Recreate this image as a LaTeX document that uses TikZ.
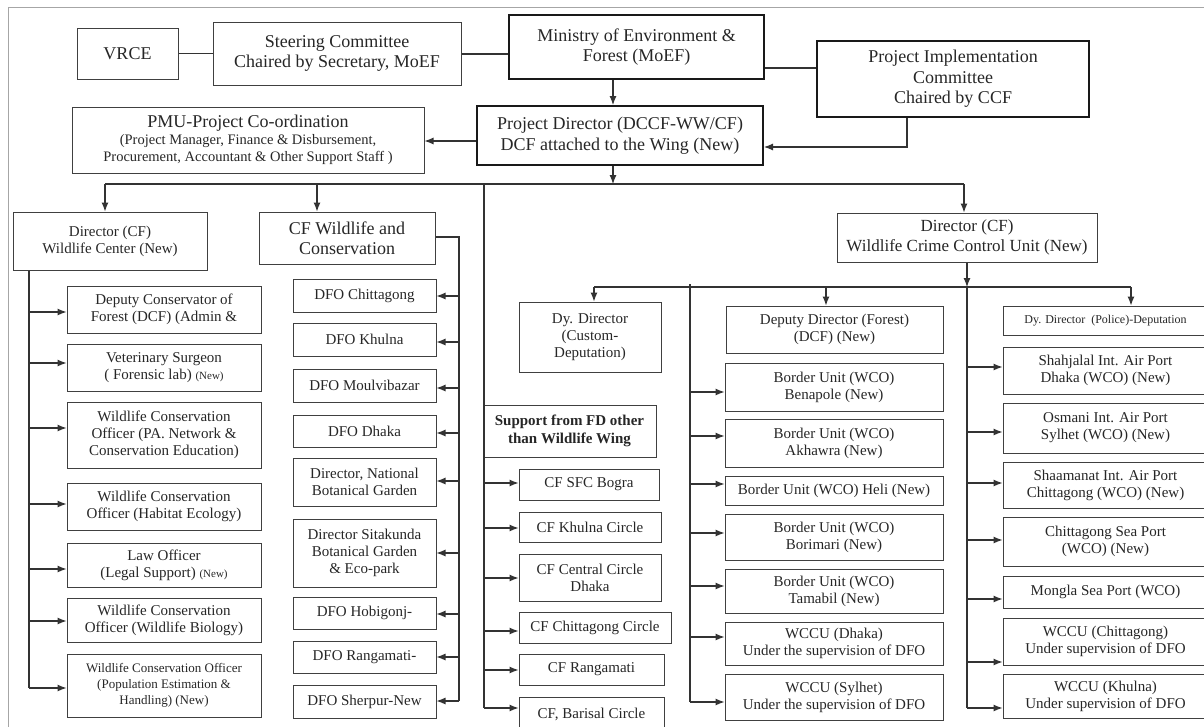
\documentclass[tikz,border=0pt]{standalone}
\usepackage{fontspec}
\setmainfont{Liberation Serif}
\usetikzlibrary{arrows.meta}
\newcommand{\fsz}[2]{\fontsize{#1}{#2}\selectfont}

\begin{document}
\begin{tikzpicture}[
  x=1pt, y=-1pt,
  box/.style 2 args={
    draw=black!75,
    line width=1pt,
    align=center,
    inner sep=1pt,
    text=black!85,
    font=\fsz{15}{17},
    minimum width=#1pt,
    minimum height=#2pt},
  bigbox/.style 2 args={box={#1}{#2}, draw=black!90, line width=2pt, font=\fsz{18}{20.5}},
  ln/.style={draw=black!80, line width=1.1pt},
  arr/.style={ln, -{Latex[length=9pt,width=7pt]}}]
  \useasboundingbox (0,0) rectangle (1204,726);
  % page frame
  \draw[gray!70,line width=0.8pt] (8,740) -- (8,7) -- (1215,7);
  % top level: ministry and committees
  \node[box={101}{51},font=\fsz{18}{20}] (vrce) at (127.5, 53.5) {VRCE};
  \node[box={248}{63},font=\fsz{18}{20}] (steer) at (337, 53.5) {Steering Committee\\Chaired by Secretary, MoEF};
  \node[bigbox={255}{64}] (moef) at (636.5, 47) {Ministry of Environment \&\\Forest (MoEF)};
  \node[bigbox={272}{76}] (pic) at (953, 79) {Project Implementation\\Committee\\Chaired by CCF};
  \node[bigbox={286}{59}] (pd) at (620, 135.5) {Project Director (DCCF-WW/CF)\\DCF attached to the Wing (New)};
  \node[box={352}{66}] (pmu) at (248, 140) {{\fsz{18}{20}PMU-Project Co-ordination}\\{\fsz{14.5}{17}(Project Manager, Finance \& Disbursement,}\\{\fsz{14.5}{17}Procurement, Accountant \& Other Support Staff )}};
  \draw[ln] (vrce.east) -- (steer.west);
  \draw[ln] (steer.east |- 0,54) -- (moef.west |- 0,54);
  \draw[ln] (moef.east |- 0,68) -- (pic.west |- 0,68);
  \draw[arr] (moef.south -| 613,0) -- (pd.north -| 613,0);
  \draw[arr] (pic.south -| 907,0) |- (pd.east |- 0,147);
  \draw[arr] (pd.west |- 0,141) -- (pmu.east |- 0,141);
  % main bus below the project director
  \coordinate (bus) at (613,184);
  \draw[arr] (pd.south -| bus) -- (bus);
  \draw[ln] (bus -| 105,0) -- (bus -| 964,0);
  % heads of the four branches
  \node[box={194}{58}] (dwc) at (110, 241) {Director (CF)\\Wildlife Center (New)};
  \node[box={176}{52},font=\fsz{18}{20}] (cfw) at (347, 238) {CF Wildlife and\\Conservation};
  \node[box={173}{52},font=\bfseries\fsz{15}{18}] (sup) at (569.5, 431) {Support from FD other\\than Wildlife Wing};
  \node[box={260}{49},font=\fsz{17}{19.5}] (dwcu) at (967, 237.5) {Director (CF)\\Wildlife Crime Control Unit (New)};
  \draw[arr] (bus -| 105,0) -- (dwc.north -| 105,0);
  \draw[arr] (bus -| 317,0) -- (cfw.north -| 317,0);
  \draw[arr] (bus -| 964,0) -- (dwcu.north -| 964,0);
  % wildlife center staff
  \node[box={194}{47}] (dcf) at (164, 309.5) {Deputy Conservator of\\Forest (DCF) (Admin \&};
  \node[box={194}{47}] (vet) at (164, 367.5) {Veterinary Surgeon\\( Forensic lab) {\fsz{11}{13}(New)}};
  \node[box={194}{66}] (wpa) at (164, 435) {Wildlife Conservation\\Officer (PA. Network \&\\Conservation Education)};
  \node[box={194}{47}] (whab) at (164, 506.5) {Wildlife Conservation\\Officer (Habitat Ecology)};
  \node[box={194}{44}] (law) at (164, 565) {Law Officer\\(Legal Support) {\fsz{11}{13}(New)}};
  \node[box={194}{44}] (wbio) at (164, 620) {Wildlife Conservation\\Officer (Wildlife Biology)};
  \node[box={194}{63},font=\fsz{13}{16}] (wpop) at (164, 685.5) {Wildlife Conservation Officer\\(Population Estimation \&\\Handling) (New)};
  \coordinate (lspine) at (29,688);
  \draw[ln] (dwc.south -| lspine) -- (lspine);
  \foreach \n/\y in {dcf/312,vet/363,wpa/428,whab/504,law/569,wbio/621,wpop/688}
    \draw[arr] (lspine |- 0,\y) -- (\n.west |- 0,\y);
  % divisional forest offices
  \node[box={143}{33}] (dfoc) at (364.5, 295.5) {DFO Chittagong};
  \node[box={143}{33}] (dfok) at (364.5, 339.5) {DFO Khulna};
  \node[box={143}{33}] (dfom) at (364.5, 385.5) {DFO Moulvibazar};
  \node[box={143}{32}] (dfod) at (364.5, 431) {DFO Dhaka};
  \node[box={143}{48}] (dnbg) at (364.5, 482) {Director, National\\Botanical Garden};
  \node[box={143}{68}] (dsbg) at (364.5, 553) {Director Sitakunda\\Botanical Garden\\\& Eco-park};
  \node[box={143}{32}] (dfoh) at (364.5, 613) {DFO Hobigonj-};
  \node[box={143}{32}] (dfor) at (364.5, 657) {DFO Rangamati-};
  \node[box={143}{33}] (dfos) at (364.5, 701.5) {DFO Sherpur-New};
  \coordinate (cspine) at (459,701);
  \draw[ln] (cfw.east |- 0,237) -| (cspine);
  \foreach \n/\y in {dfoc/296,dfok/342,dfom/388,dfod/433,dnbg/481,dsbg/553,dfoh/614,dfor/657,dfos/701}
    \draw[arr] (cspine |- 0,\y) -- (\n.east |- 0,\y);
  % forest circles giving support
  \node[box={140}{31}] (cfb) at (589, 484.5) {CF SFC Bogra};
  \node[box={142}{30}] (cfk) at (590, 527) {CF Khulna Circle};
  \node[box={142}{47}] (cfc) at (590, 577.5) {CF Central Circle\\Dhaka};
  \node[box={152}{31}] (cfch) at (595, 627.5) {CF Chittagong Circle};
  \node[box={145}{31}] (cfr) at (591.5, 669.5) {CF Rangamati};
  \node[box={145}{35}] (cfbar) at (591.5, 714.5) {CF, Barisal Circle};
  \coordinate (sspine) at (484,708);
  \draw[ln] (bus -| sspine) -- (sspine);
  \foreach \n/\y in {cfb/483,cfk/528,cfc/578,cfch/631,cfr/670,cfbar/708}
    \draw[arr] (sspine |- 0,\y) -- (\n.west |- 0,\y);
  % crime control unit: deputies
  \coordinate (wbus) at (967,287);
  \draw[arr] (dwcu.south -| wbus) -- (wbus);
  \draw[ln] (wbus -| 594,0) -- (wbus -| 1131,0);
  \node[box={142}{70}] (ddc) at (590, 337) {Dy. Director\\(Custom-\\Deputation)};
  \node[box={217}{47}] (ddf) at (834.5, 329.5) {Deputy Director (Forest)\\(DCF) (New)};
  \node[box={205}{29},font=\fsz{12}{14}] (ddp) at (1105.5, 320.5) {Dy. Director\ \ (Police)-Deputation};
  \draw[arr] (wbus -| 594,0) -- (ddc.north -| 594,0);
  \draw[arr] (wbus -| 826,0) -- (ddf.north -| 826,0);
  \draw[arr] (wbus -| 1131,0) -- (ddp.north -| 1131,0);
  % border units
  \node[box={218}{48}] (bben) at (834, 387) {Border Unit (WCO)\\Benapole (New)};
  \node[box={218}{48}] (bakh) at (834, 443) {Border Unit (WCO)\\Akhawra (New)};
  \node[box={218}{29}] (bhel) at (834, 490.5) {Border Unit (WCO) Heli (New)};
  \node[box={218}{46}] (bbor) at (834, 537) {Border Unit (WCO)\\Borimari (New)};
  \node[box={218}{44}] (btam) at (834, 591) {Border Unit (WCO)\\Tamabil (New)};
  \node[box={218}{43}] (wdha) at (834, 643.5) {WCCU (Dhaka)\\Under the supervision of DFO};
  \node[box={218}{46}] (wsyl) at (834, 697) {WCCU (Sylhet)\\Under the supervision of DFO};
  \coordinate (bspine) at (690,702);
  \draw[ln] (bspine |- 0,284) -- (bspine);
  \foreach \n/\y in {bben/392,bakh/436,bhel/484,bbor/533,btam/586,wdha/637,wsyl/702}
    \draw[arr] (bspine |- 0,\y) -- (\n.west |- 0,\y);
  % ports and regional units
  \node[box={205}{47}] (shah) at (1105.5, 370.5) {Shahjalal Int. Air Port\\Dhaka (WCO) (New)};
  \node[box={205}{50}] (osm) at (1105.5, 428) {Osmani Int. Air Port\\Sylhet (WCO) (New)};
  \node[box={205}{46}] (sham) at (1105.5, 485) {Shaamanat Int. Air Port\\Chittagong (WCO) (New)};
  \node[box={205}{49}] (csp) at (1105.5, 541.5) {Chittagong Sea Port\\(WCO) (New)};
  \node[box={205}{32}] (mong) at (1105.5, 592) {Mongla Sea Port (WCO)};
  \node[box={205}{47}] (wctg) at (1105.5, 641.5) {WCCU (Chittagong)\\Under supervision of DFO};
  \node[box={205}{44}] (wkhu) at (1105.5, 696) {WCCU (Khulna)\\Under supervision of DFO};
  \coordinate (pspine) at (967,708);
  \draw[ln] (wbus) -- (pspine);
  \foreach \n/\y in {shah/367,osm/432,sham/483,csp/540,mong/599,wctg/662,wkhu/708}
    \draw[arr] (pspine |- 0,\y) -- (\n.west |- 0,\y);
\end{tikzpicture}
\end{document}
